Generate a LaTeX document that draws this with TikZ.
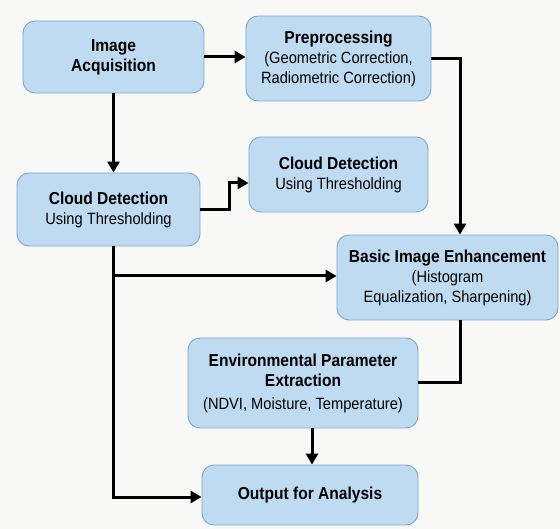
\documentclass[tikz,border=0pt]{standalone}
\usepackage{fontspec}
\setmainfont{Liberation Sans}[FakeStretch=0.9]
\usetikzlibrary{arrows.meta,calc}
\definecolor{boxfill}{HTML}{BEDBF2}
\definecolor{boxline}{HTML}{7FA8CF}
\definecolor{bgcol}{HTML}{F8F8F6}
\tikzset{
  stage/.style={draw=boxline, line width=0.9pt, fill=boxfill, rounded corners=12pt,
    align=center, inner sep=0pt, font=\fontsize{16.3}{20}\selectfont},
  conn/.style={line width=3pt, draw=black},
  arr/.style={conn, -{Triangle[length=11pt,width=12pt]}},
}
\newcommand{\ttl}[1]{{\fontsize{17.3}{20}\selectfont\bfseries #1}}
\begin{document}
\begin{tikzpicture}[x=1pt,y=-1pt]
\fill[bgcol] (0,0) rectangle (560,529);
\useasboundingbox (0,0) rectangle (560,529);

\node[stage, minimum width=181pt, minimum height=72pt] (acq) at (113.5,57)
  {\ttl{Image}\\\ttl{Acquisition}};
\node[stage, minimum width=185pt, minimum height=85pt] (pre) at (338.5,58.5)
  {\ttl{Preprocessing}\\(Geometric Correction,\\Radiometric Correction)};
\node[stage, minimum width=183pt, minimum height=73pt] (cd1) at (108.5,209.5)
  {\ttl{Cloud Detection}\\Using Thresholding};
\node[stage, minimum width=179pt, minimum height=75pt] (cd2) at (338.5,174.5)
  {\ttl{Cloud Detection}\\Using Thresholding};
\node[stage, minimum width=221pt, minimum height=85pt] (bie) at (447.5,277.5)
  {\ttl{Basic Image Enhancement}\\(Histogram\\Equalization, Sharpening)};
\node[stage, minimum width=230pt, minimum height=90pt] (env) at (303,383)
  {\ttl{Environmental Parameter}\\\ttl{Extraction}\\[3pt](NDVI, Moisture, Temperature)};
\node[stage, minimum width=216pt, minimum height=60pt] (out) at (310,495)
  {\ttl{Output for Analysis}};

\coordinate (br) at (113.5,276);
\coordinate (elb) at (229,209.5);

\draw[arr] (acq.east) -- (acq.east -| pre.west);
\draw[arr] (acq.south) -- (acq.south |- cd1.north);
\draw[arr] (pre.east) -| ([xshift=12.5pt]bie.north);
\draw[arr] (cd1.east) -- (elb) |- ([yshift=-8.5pt]cd2.west);
\draw[arr] (cd1.south -| acq.south) |- ([yshift=-2pt]out.west);
\draw[arr] (br) -- (br -| bie.west);
\draw[conn] ([xshift=12.5pt]bie.south) |- (env.east);
\draw[arr] ([xshift=2pt]out.north |- env.south) -- ([xshift=2pt]out.north);
\end{tikzpicture}
\end{document}
